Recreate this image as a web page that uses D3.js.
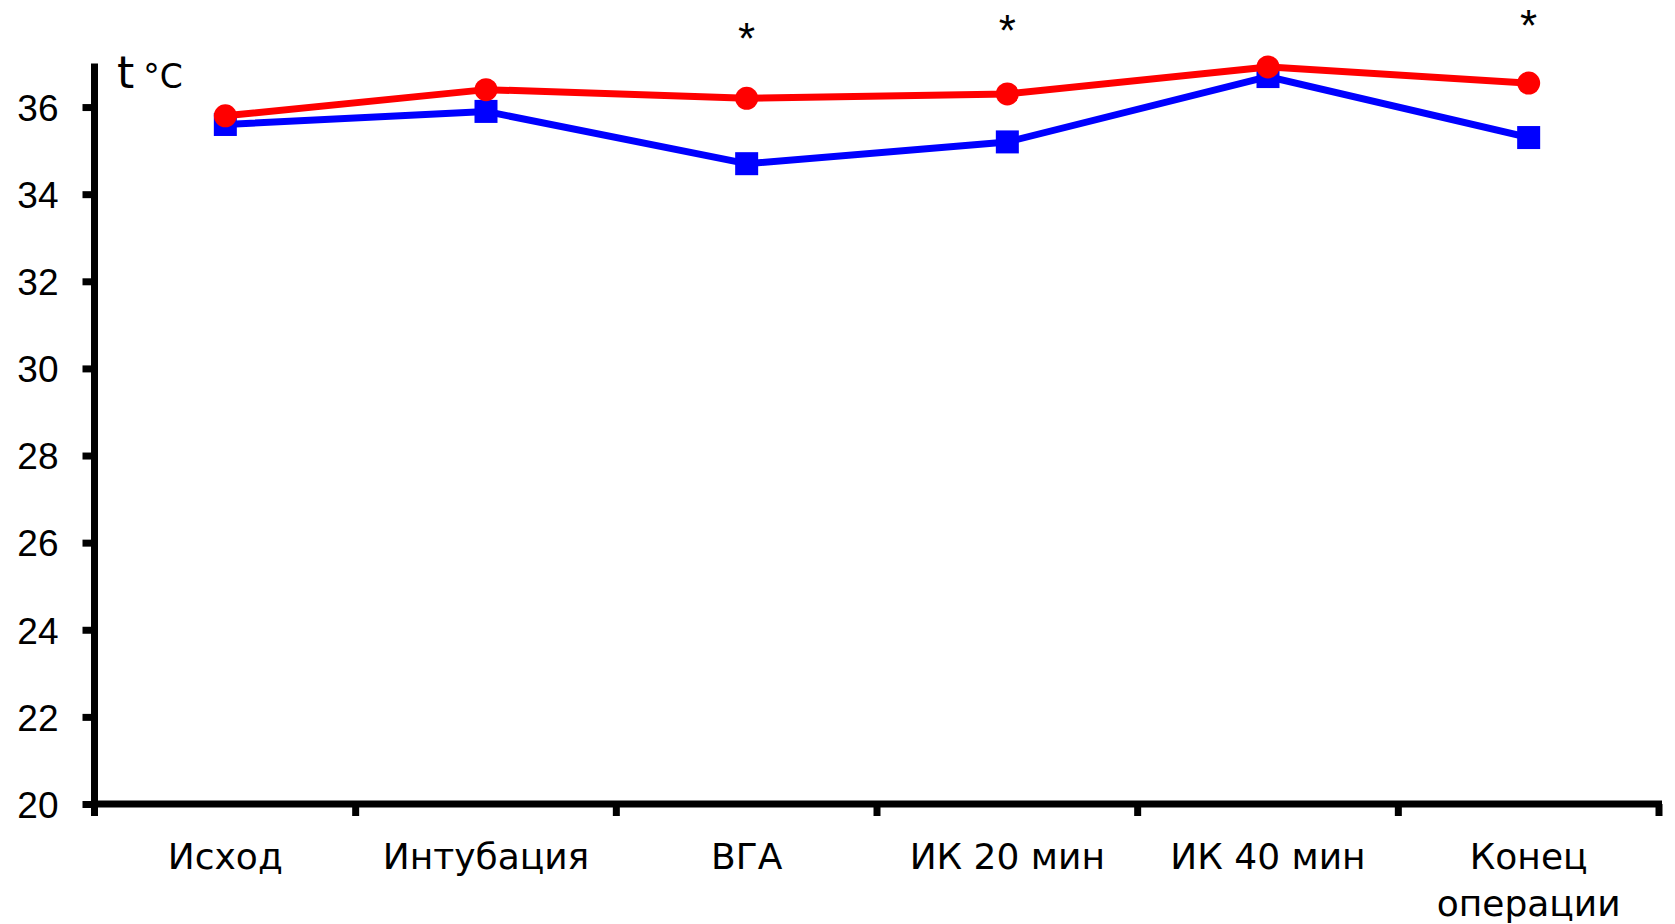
<!DOCTYPE html>
<html>
<head>
<meta charset="utf-8">
<script src="https://cdn.jsdelivr.net/npm/d3@7"></script>
<style>
  html, body { margin: 0; padding: 0; background: #fff; }
  svg { display: block; }
</style>
</head>
<body>
<svg id="chart" width="1675" height="924"></svg>
<script>
const categories = ["Исход", "Интубация", "ВГА", "ИК 20 мин", "ИК 40 мин", "Конец\nоперации"];
const redValues  = [35.8, 36.4, 36.2, 36.3, 36.92, 36.55];
const blueValues = [35.6, 35.9, 34.7, 35.2, 36.7, 35.3];
const yTicks = [20, 22, 24, 26, 28, 30, 32, 34, 36];
const significant = [false, false, true, true, false, true];

const svg = d3.select("#chart");

const x = d3.scaleBand().domain(categories).range([95, 1659]).padding(0);
const y = d3.scaleLinear().domain([20, 37]).range([804, 63.5]);
const cx = c => x(c) + x.bandwidth() / 2;

// Y axis
const yAxis = svg.append("g")
  .attr("transform", "translate(94.5,0)")
  .call(d3.axisLeft(y).tickValues(yTicks).tickSize(12).tickSizeOuter(0).tickPadding(24));
yAxis.select(".domain").attr("stroke", "#000").attr("stroke-width", 7)
  .attr("d", `M0,${y(37)}V${y(20) + 12}`);
yAxis.selectAll(".tick line").attr("stroke", "#000").attr("stroke-width", 7);
yAxis.selectAll(".tick text")
  .attr("font-family", "'Liberation Sans', Arial, sans-serif")
  .attr("font-size", 37).attr("fill", "#000").attr("dy", "0.36em");

// X axis
const xg = svg.append("g").attr("transform", `translate(0,${y(20)})`);
xg.append("line").attr("x1", 91).attr("x2", 1662).attr("y1", 0).attr("y2", 0)
  .attr("stroke", "#000").attr("stroke-width", 7);
const boundaries = categories.map(c => x(c)).concat([x.range()[1]]);
xg.selectAll("line.tk").data(boundaries.slice(1)).join("line").attr("class", "tk")
  .attr("x1", d => d).attr("x2", d => d).attr("y1", 0).attr("y2", 12)
  .attr("stroke", "#000").attr("stroke-width", 7);

const labels = svg.append("g");
categories.forEach(c => {
  const lines = c.split("\n");
  const t = labels.append("text")
    .attr("x", cx(c)).attr("y", 869)
    .attr("text-anchor", "middle")
    .attr("font-family", "'DejaVu Sans', sans-serif")
    .attr("font-size", 36).attr("fill", "#000");
  lines.forEach((ln, i) => {
    t.append("tspan").attr("x", cx(c)).attr("dy", i === 0 ? 0 : 47).text(ln);
  });
});

// Axis title
const title = svg.append("text").attr("x", 117).attr("y", 88)
  .attr("font-family", "'DejaVu Sans', sans-serif").attr("fill", "#000");
title.append("tspan").attr("font-size", 44).attr("font-weight", "normal").text("t");
title.append("tspan").attr("font-size", 33).attr("dx", 9).text("°C");

// Lines
const line = d3.line().x(d => cx(d.c)).y(d => y(d.v));
const blueData = categories.map((c, i) => ({ c, v: blueValues[i] }));
const redData = categories.map((c, i) => ({ c, v: redValues[i] }));

svg.append("path").datum(blueData).attr("d", line)
  .attr("fill", "none").attr("stroke", "#0000ff").attr("stroke-width", 7).attr("stroke-linejoin", "round");
svg.selectAll("rect.bm").data(blueData).join("rect").attr("class", "bm")
  .attr("x", d => cx(d.c) - 11.5).attr("y", d => y(d.v) - 11.5)
  .attr("width", 23).attr("height", 23).attr("fill", "#0000ff");

svg.append("path").datum(redData).attr("d", line)
  .attr("fill", "none").attr("stroke", "#ff0000").attr("stroke-width", 7).attr("stroke-linejoin", "round");
svg.selectAll("circle.rm").data(redData).join("circle").attr("class", "rm")
  .attr("cx", d => cx(d.c)).attr("cy", d => y(d.v)).attr("r", 11.5).attr("fill", "#ff0000");

// Significance asterisks (vertical centres of the glyphs)
const starCentres = [0, 0, 28, 20, 0, 15];
svg.selectAll("text.star").data(categories.filter((c, i) => significant[i]))
  .join("text").attr("class", "star")
  .attr("x", c => cx(c)).attr("y", c => starCentres[categories.indexOf(c)] + 25.5)
  .attr("text-anchor", "middle")
  .attr("font-family", "'Liberation Sans', Arial, sans-serif")
  .attr("font-size", 44).attr("fill", "#000").text("*");
</script>
</body>
</html>
